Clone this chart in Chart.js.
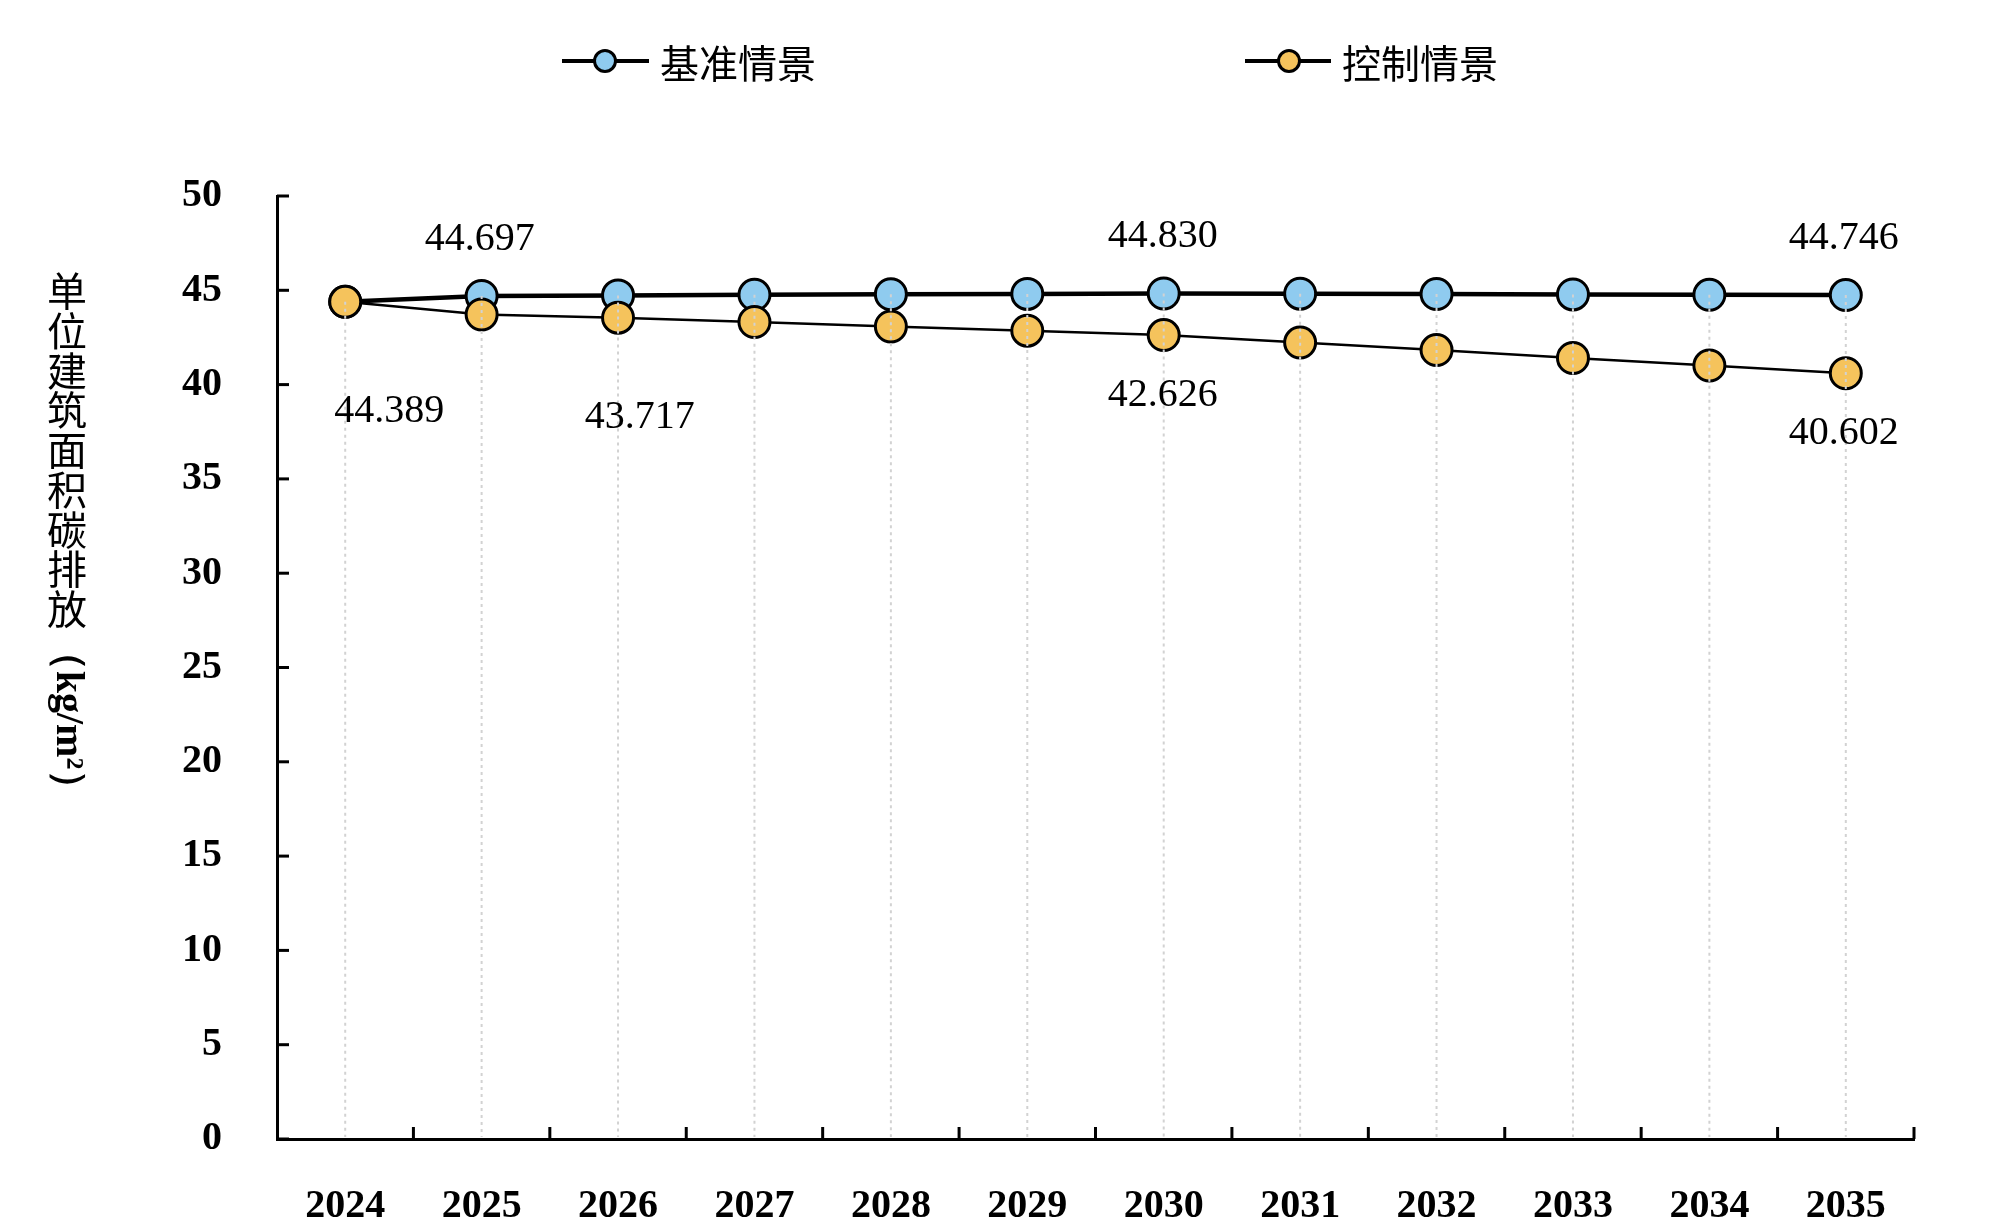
<!DOCTYPE html>
<html>
<head>
<meta charset="utf-8">
<script src="https://cdn.jsdelivr.net/npm/chart.js@4.4.1/dist/chart.umd.min.js"></script>
<style>
html, body { margin: 0; padding: 0; background: #fff; }
#wrap { width: 2000px; height: 1224px; }
</style>
</head>
<body>
<div id="wrap"><canvas id="chart"></canvas></div>
<script>
var years = ['2024', '2025', '2026', '2027', '2028', '2029', '2030', '2031', '2032', '2033', '2034', '2035'];
var baseValues = [44.389, 44.697, 44.73, 44.76, 44.79, 44.81, 44.830, 44.82, 44.80, 44.78, 44.76, 44.746];
var controlValues = [44.389, 43.717, 43.55, 43.32, 43.08, 42.86, 42.626, 42.23, 41.83, 41.41, 41.01, 40.602];
var seriesNames = ['基准情景', '控制情景'];
var axisTitle = '单位建筑面积碳排放';
var axisUnit = '（kg/m²）';
var yMin = 0, yMax = 50, yStep = 5;

var blueFill = '#8fcbef';
var orangeFill = '#f5c35c';
var serif = "'Liberation Serif', 'Times New Roman', serif";
var cjk = "'Noto Sans CJK SC', sans-serif";

// which values get a number written next to them, and where it sits
var valueLabels = [
	{ data: baseValues, i: 1, dx: -2, dy: -57 },
	{ data: baseValues, i: 6, dx: -1, dy: -57 },
	{ data: baseValues, i: 11, dx: -2, dy: -57 },
	{ data: controlValues, i: 0, dx: 44, dy: 110 },
	{ data: controlValues, i: 1, dx: 158, dy: 103 },
	{ data: controlValues, i: 6, dx: -1, dy: 60 },
	{ data: controlValues, i: 11, dx: -2, dy: 60 }
];

var dropLines = {
	id: 'dropLines',
	afterDatasetsDraw: function(chart) {
		var ctx = chart.ctx, a = chart.chartArea, x = chart.scales.x, y = chart.scales.y;
		ctx.save();
		ctx.strokeStyle = '#d2d2d2';
		ctx.lineWidth = 2;
		ctx.setLineDash([3, 4]);
		years.forEach(function(yr, i) {
			var px = x.getPixelForValue(i);
			var top = Math.min(y.getPixelForValue(baseValues[i]), y.getPixelForValue(controlValues[i]));
			ctx.beginPath();
			ctx.moveTo(px, top);
			ctx.lineTo(px, a.bottom - 2);
			ctx.stroke();
		});
		ctx.restore();

		ctx.save();
		ctx.fillStyle = '#000';
		ctx.font = '40px ' + serif;
		ctx.textAlign = 'center';
		ctx.textBaseline = 'middle';
		valueLabels.forEach(function(l) {
			var px = x.getPixelForValue(l.i) + l.dx;
			var py = y.getPixelForValue(l.data[l.i]) + l.dy;
			ctx.fillText(l.data[l.i].toFixed(3), px, py);
		});
		ctx.restore();
	}
};

var axisDecor = {
	id: 'axisDecor',
	afterDraw: function(chart) {
		var ctx = chart.ctx, a = chart.chartArea, x = chart.scales.x, y = chart.scales.y;
		ctx.save();
		ctx.strokeStyle = '#000';
		ctx.lineWidth = 3;
		// inner tick marks
		y.ticks.forEach(function(t, i) {
			var py = y.getPixelForTick(i);
			ctx.beginPath();
			ctx.moveTo(a.left, py);
			ctx.lineTo(a.left + 12, py);
			ctx.stroke();
		});
		var half = (x.getPixelForValue(1) - x.getPixelForValue(0)) / 2;
		for (var k = 0; k < years.length; k++) {
			var px = x.getPixelForValue(k) + half;
			ctx.beginPath();
			ctx.moveTo(px, a.bottom);
			ctx.lineTo(px, a.bottom - 12);
			ctx.stroke();
		}
		ctx.restore();

		// vertical axis title
		ctx.save();
		ctx.fillStyle = '#000';
		ctx.font = '40px ' + cjk;
		ctx.textAlign = 'center';
		ctx.textBaseline = 'middle';
		var chars = axisTitle.split('');
		chars.forEach(function(c, i) {
			ctx.fillText(c, 67, 291 + i * 39.75);
		});
		ctx.translate(67, 291 + chars.length * 39.75 - 18);
		ctx.rotate(Math.PI / 2);
		ctx.textAlign = 'left';
		ctx.font = 'bold 40px ' + serif;
		ctx.fillText(axisUnit, 0, 0);
		ctx.restore();

		// legend
		var items = [
			{ name: seriesNames[0], fill: blueFill, x0: 562, x1: 649, cx: 605, tx: 660 },
			{ name: seriesNames[1], fill: orangeFill, x0: 1245, x1: 1331, cx: 1289, tx: 1342 }
		];
		ctx.save();
		items.forEach(function(it) {
			var cy = 61;
			ctx.strokeStyle = '#000';
			ctx.lineWidth = 4;
			ctx.beginPath();
			ctx.moveTo(it.x0, cy);
			ctx.lineTo(it.x1, cy);
			ctx.stroke();
			ctx.beginPath();
			ctx.arc(it.cx, cy, 10.5, 0, Math.PI * 2);
			ctx.fillStyle = it.fill;
			ctx.fill();
			ctx.lineWidth = 3;
			ctx.stroke();
			ctx.fillStyle = '#000';
			ctx.font = '39px ' + cjk;
			ctx.textAlign = 'left';
			ctx.textBaseline = 'middle';
			ctx.fillText(it.name, it.tx, cy + 2);
		});
		ctx.restore();
	}
};

Chart.defaults.font.family = serif;
Chart.defaults.color = '#000';

var ctx = document.getElementById('chart').getContext('2d');
var chart = new Chart(ctx, {
	type: 'line',
	data: {
		labels: years,
		datasets: [{
			label: seriesNames[0],
			data: baseValues,
			order: 1,
			borderColor: '#000',
			borderWidth: 4.5,
			pointRadius: 15.5,
			pointBorderWidth: 3,
			pointBorderColor: '#000',
			pointBackgroundColor: blueFill,
			tension: 0
		}, {
			label: seriesNames[1],
			data: controlValues,
			order: 0,
			borderColor: '#000',
			borderWidth: 2.5,
			pointRadius: 15.5,
			pointBorderWidth: 3,
			pointBorderColor: '#000',
			pointBackgroundColor: orangeFill,
			tension: 0
		}]
	},
	options: {
		responsive: true,
		maintainAspectRatio: false,
		animation: false,
		devicePixelRatio: 1,
		layout: { padding: { left: 0, right: 86, top: 196, bottom: 0 } },
		plugins: {
			legend: { display: false },
			tooltip: { enabled: false }
		},
		scales: {
			x: {
				offset: true,
				grid: { display: false },
				border: { display: true, color: '#000', width: 3 },
				ticks: { font: { size: 40, weight: 'bold' }, padding: 36, maxRotation: 0, autoSkip: false },
				afterFit: function(s) { s.height = 85; }
			},
			y: {
				min: yMin,
				max: yMax,
				grid: { display: false },
				border: { display: true, color: '#000', width: 3 },
				ticks: { stepSize: yStep, font: { size: 40, weight: 'bold' }, padding: 47 },
				afterFit: function(s) { s.width = 277; }
			}
		}
	},
	plugins: [dropLines, axisDecor]
});
</script>
</body>
</html>
